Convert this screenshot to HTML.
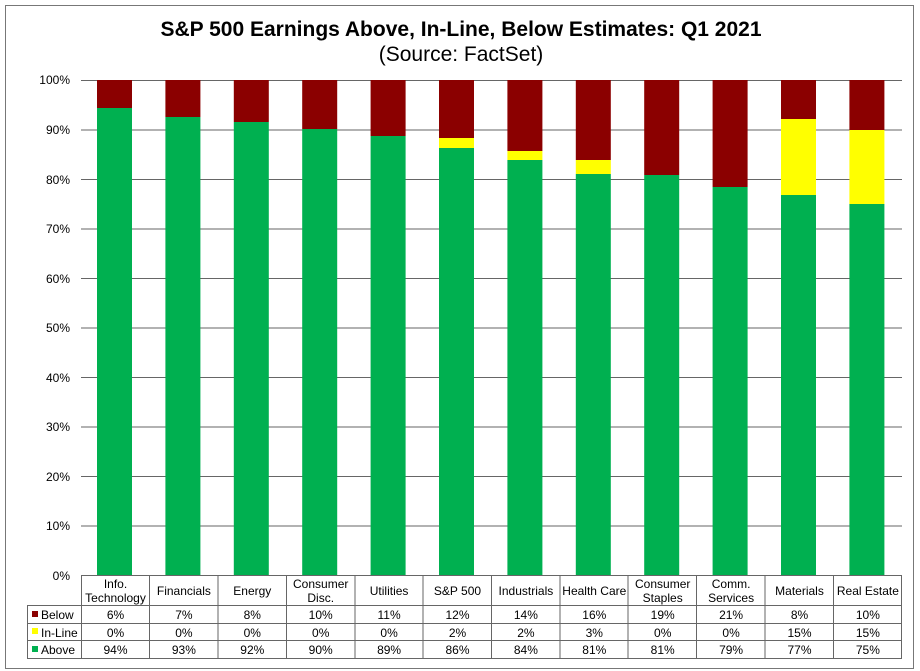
<!DOCTYPE html>
<html><head><style>
body{margin:0;background:#fff;}
svg{display:block;font-family:"Liberation Sans",Arial,sans-serif;}
</style></head><body>
<svg width="920" height="671" viewBox="0 0 920 671" xmlns="http://www.w3.org/2000/svg">
<rect x="0" y="0" width="920" height="671" fill="#fff"/>
<rect x="5.5" y="5.5" width="908" height="663" fill="none" stroke="#777" stroke-width="1"/>
<text x="461" y="36" text-anchor="middle" font-size="21" font-weight="bold" fill="#000">S&amp;P 500 Earnings Above, In-Line, Below Estimates: Q1 2021</text>
<text x="461" y="61" text-anchor="middle" font-size="21" fill="#000">(Source: FactSet)</text>
<g stroke="#666" stroke-width="1">
<line x1="81" y1="80.5" x2="902" y2="80.5"/>
<line x1="81" y1="130" x2="902" y2="130"/>
<line x1="81" y1="179.5" x2="902" y2="179.5"/>
<line x1="81" y1="229" x2="902" y2="229"/>
<line x1="81" y1="278.5" x2="902" y2="278.5"/>
<line x1="81" y1="328" x2="902" y2="328"/>
<line x1="81" y1="377.5" x2="902" y2="377.5"/>
<line x1="81" y1="427" x2="902" y2="427"/>
<line x1="81" y1="476.5" x2="902" y2="476.5"/>
<line x1="81" y1="526" x2="902" y2="526"/>
</g>
<g font-size="12" fill="#000" text-anchor="end">
<text x="70" y="84">100%</text><text x="70" y="134">90%</text><text x="70" y="184">80%</text>
<text x="70" y="233">70%</text><text x="70" y="283">60%</text><text x="70" y="332">50%</text>
<text x="70" y="382">40%</text><text x="70" y="431">30%</text><text x="70" y="481">20%</text>
<text x="70" y="530">10%</text><text x="70" y="580">0%</text>
</g>
<g>
<rect x="97" y="80" width="35" height="28" fill="#8b0000"/><rect x="97" y="108" width="35" height="467" fill="#00b050"/>
<rect x="165.4" y="80" width="35" height="37" fill="#8b0000"/><rect x="165.4" y="117" width="35" height="458" fill="#00b050"/>
<rect x="233.8" y="80" width="35" height="42" fill="#8b0000"/><rect x="233.8" y="122" width="35" height="453" fill="#00b050"/>
<rect x="302.2" y="80" width="35" height="49" fill="#8b0000"/><rect x="302.2" y="129" width="35" height="446" fill="#00b050"/>
<rect x="370.6" y="80" width="35" height="56" fill="#8b0000"/><rect x="370.6" y="136" width="35" height="439" fill="#00b050"/>
<rect x="439" y="80" width="35" height="58" fill="#8b0000"/><rect x="439" y="138" width="35" height="10" fill="#ffff00"/><rect x="439" y="148" width="35" height="427" fill="#00b050"/>
<rect x="507.4" y="80" width="35" height="71" fill="#8b0000"/><rect x="507.4" y="151" width="35" height="9" fill="#ffff00"/><rect x="507.4" y="160" width="35" height="415" fill="#00b050"/>
<rect x="575.8" y="80" width="35" height="80" fill="#8b0000"/><rect x="575.8" y="160" width="35" height="14" fill="#ffff00"/><rect x="575.8" y="174" width="35" height="401" fill="#00b050"/>
<rect x="644.2" y="80" width="35" height="95" fill="#8b0000"/><rect x="644.2" y="175" width="35" height="400" fill="#00b050"/>
<rect x="712.6" y="80" width="35" height="107" fill="#8b0000"/><rect x="712.6" y="187" width="35" height="388" fill="#00b050"/>
<rect x="781" y="80" width="35" height="39" fill="#8b0000"/><rect x="781" y="119" width="35" height="76" fill="#ffff00"/><rect x="781" y="195" width="35" height="380" fill="#00b050"/>
<rect x="849.4" y="80" width="35" height="50" fill="#8b0000"/><rect x="849.4" y="130" width="35" height="74" fill="#ffff00"/><rect x="849.4" y="204" width="35" height="371" fill="#00b050"/>
</g>
<g stroke="#666" stroke-width="1" fill="none">
<line x1="81" y1="575.5" x2="902" y2="575.5"/>
<line x1="27" y1="605.5" x2="902" y2="605.5"/>
<line x1="27" y1="623.5" x2="902" y2="623.5"/>
<line x1="27" y1="640.5" x2="902" y2="640.5"/>
<line x1="27" y1="658.5" x2="902" y2="658.5"/>
<line x1="27.5" y1="605" x2="27.5" y2="659"/>
<line x1="81.5" y1="575" x2="81.5" y2="659"/>
<line x1="149.5" y1="575" x2="149.5" y2="659"/><line x1="218" y1="575" x2="218" y2="659"/>
<line x1="286.5" y1="575" x2="286.5" y2="659"/><line x1="355" y1="575" x2="355" y2="659"/>
<line x1="423" y1="575" x2="423" y2="659"/><line x1="491.5" y1="575" x2="491.5" y2="659"/>
<line x1="560" y1="575" x2="560" y2="659"/><line x1="628" y1="575" x2="628" y2="659"/>
<line x1="696.5" y1="575" x2="696.5" y2="659"/><line x1="765" y1="575" x2="765" y2="659"/>
<line x1="833.5" y1="575" x2="833.5" y2="659"/><line x1="901.5" y1="575" x2="901.5" y2="659"/>
</g>
<rect x="32" y="611" width="6" height="6" fill="#8b0000"/>
<rect x="32" y="628" width="6" height="6" fill="#ffff00"/>
<rect x="32" y="646" width="6" height="6" fill="#00b050"/>
<g font-size="12" fill="#000">
<text x="41" y="619">Below</text><text x="41" y="637">In-Line</text><text x="41" y="654">Above</text>
</g>
<g font-size="12" fill="#000" text-anchor="middle">
<text x="115.5" y="588">Info.</text><text x="115.5" y="602">Technology</text>
<text x="183.9" y="595">Financials</text>
<text x="252.3" y="595">Energy</text>
<text x="320.7" y="588">Consumer</text><text x="320.7" y="602">Disc.</text>
<text x="389.1" y="595">Utilities</text>
<text x="457.5" y="595">S&amp;P 500</text>
<text x="525.9" y="595">Industrials</text>
<text x="594.3" y="595">Health Care</text>
<text x="662.7" y="588">Consumer</text><text x="662.7" y="602">Staples</text>
<text x="731.1" y="588">Comm.</text><text x="731.1" y="602">Services</text>
<text x="799.5" y="595">Materials</text>
<text x="867.9" y="595">Real Estate</text>

<text x="115.5" y="619">6%</text><text x="183.9" y="619">7%</text><text x="252.3" y="619">8%</text><text x="320.7" y="619">10%</text><text x="389.1" y="619">11%</text><text x="457.5" y="619">12%</text><text x="525.9" y="619">14%</text><text x="594.3" y="619">16%</text><text x="662.7" y="619">19%</text><text x="731.1" y="619">21%</text><text x="799.5" y="619">8%</text><text x="867.9" y="619">10%</text>

<text x="115.5" y="637">0%</text><text x="183.9" y="637">0%</text><text x="252.3" y="637">0%</text><text x="320.7" y="637">0%</text><text x="389.1" y="637">0%</text><text x="457.5" y="637">2%</text><text x="525.9" y="637">2%</text><text x="594.3" y="637">3%</text><text x="662.7" y="637">0%</text><text x="731.1" y="637">0%</text><text x="799.5" y="637">15%</text><text x="867.9" y="637">15%</text>

<text x="115.5" y="654">94%</text><text x="183.9" y="654">93%</text><text x="252.3" y="654">92%</text><text x="320.7" y="654">90%</text><text x="389.1" y="654">89%</text><text x="457.5" y="654">86%</text><text x="525.9" y="654">84%</text><text x="594.3" y="654">81%</text><text x="662.7" y="654">81%</text><text x="731.1" y="654">79%</text><text x="799.5" y="654">77%</text><text x="867.9" y="654">75%</text>
</g>
</svg>
</body></html>
